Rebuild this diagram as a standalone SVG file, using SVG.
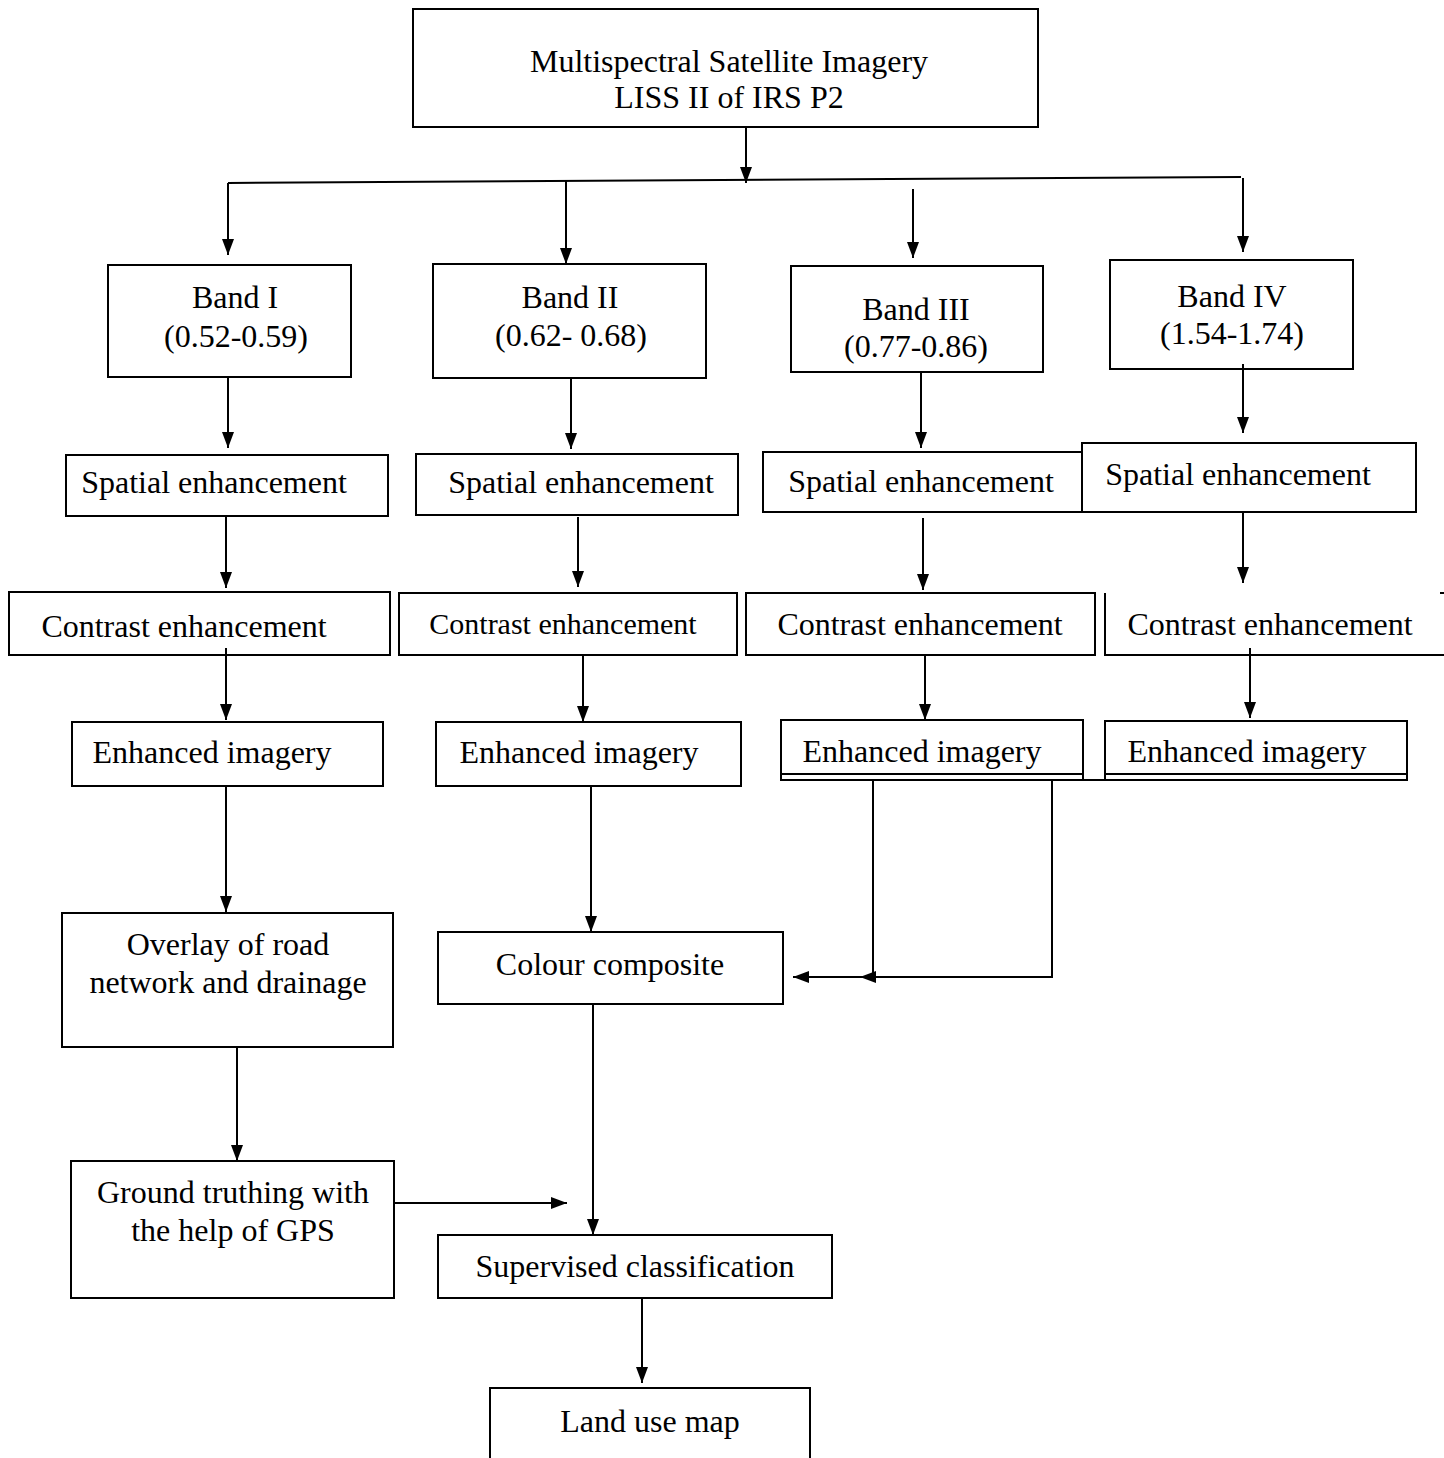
<svg xmlns="http://www.w3.org/2000/svg" width="1444" height="1458" viewBox="0 0 1444 1458">
<style>
.box{fill:none;stroke:#000;stroke-width:2}
.open{fill:none;stroke:#000;stroke-width:2}
.t{font-family:"Liberation Serif","Times New Roman",serif;font-size:32px;fill:#000;text-anchor:middle}
.c{fill:none;stroke:#000;stroke-width:2;marker-end:url(#ah)}
.l{fill:none;stroke:#000;stroke-width:2}
</style>
<defs>
<marker id="ah" viewBox="0 0 16 12" refX="16" refY="6" markerWidth="16" markerHeight="12" orient="auto" markerUnits="userSpaceOnUse"><path d="M0,0 L16,6 L0,12 z" fill="#000"/></marker>
</defs>
<rect width="1444" height="1458" fill="#fff"/>
<g id="connectors">
<path class="c" d="M746,127 V183"/>
<path class="l" d="M228,183 L1241,177"/>
<path class="c" d="M228,183 V255"/>
<path class="c" d="M566,181 V264"/>
<path class="c" d="M913,189 V258"/>
<path class="c" d="M1243,178 V252"/>
<path class="c" d="M228,377 V448"/>
<path class="c" d="M571,378 V449"/>
<path class="c" d="M921,372 V448"/>
<path class="c" d="M1243,364 V433"/>
<path class="c" d="M226,516 V588"/>
<path class="c" d="M578,517 V587"/>
<path class="c" d="M923,518 V590"/>
<path class="c" d="M1243,512 V583"/>
<path class="c" d="M226,648 V720"/>
<path class="c" d="M583,655 V722"/>
<path class="c" d="M925,655 V720"/>
<path class="c" d="M1250,648 V718"/>
<path class="c" d="M226,786 V912"/>
<path class="c" d="M591,786 V932"/>
<path class="c" d="M1052,780 V977 H860"/>
<path class="c" d="M873,780 V977 H793"/>
<path class="c" d="M593,1004 V1235"/>
<path class="c" d="M237,1047 V1161"/>
<path class="c" d="M394,1203 H567"/>
<path class="c" d="M642,1298 V1383"/>
</g>
<g id="n-source">
<rect class="box" x="413" y="9" width="625" height="118"/>
<text class="t" x="729" y="72">Multispectral Satellite Imagery</text>
<text class="t" x="729" y="108">LISS II of IRS P2</text>
</g>
<g id="n-band1">
<rect class="box" x="108" y="265" width="243" height="112"/>
<text class="t" x="235" y="308">Band I</text>
<text class="t" x="236" y="347">(0.52-0.59)</text>
</g>
<g id="n-band2">
<rect class="box" x="433" y="264" width="273" height="114"/>
<text class="t" x="570" y="308">Band II</text>
<text class="t" x="571" y="346">(0.62- 0.68)</text>
</g>
<g id="n-band3">
<rect class="box" x="791" y="266" width="252" height="106"/>
<text class="t" x="916" y="320">Band III</text>
<text class="t" x="916" y="357">(0.77-0.86)</text>
</g>
<g id="n-band4">
<rect class="box" x="1110" y="260" width="243" height="109"/>
<text class="t" x="1232" y="307">Band IV</text>
<text class="t" x="1232" y="344">(1.54-1.74)</text>
</g>
<g id="n-spatial1">
<rect class="box" x="66" y="455" width="322" height="61"/>
<text class="t" x="214" y="493">Spatial enhancement</text>
</g>
<g id="n-spatial2">
<rect class="box" x="416" y="454" width="322" height="61"/>
<text class="t" x="581" y="493">Spatial enhancement</text>
</g>
<g id="n-spatial3">
<rect class="box" x="763" y="452" width="319" height="60"/>
<text class="t" x="921" y="492">Spatial enhancement</text>
</g>
<g id="n-spatial4">
<rect class="box" x="1082" y="443" width="334" height="69"/>
<text class="t" x="1238" y="485">Spatial enhancement</text>
</g>
<g id="n-contrast1">
<rect class="box" x="9" y="592" width="381" height="63"/>
<text class="t" x="184" y="637">Contrast enhancement</text>
</g>
<g id="n-contrast2">
<rect class="box" x="399" y="593" width="338" height="62"/>
<text class="t" x="563" y="634" style="font-size:30px">Contrast enhancement</text>
</g>
<g id="n-contrast3">
<rect class="box" x="746" y="593" width="349" height="62"/>
<text class="t" x="920" y="635">Contrast enhancement</text>
</g>
<g id="n-contrast4">
<path class="open" d="M1105,593 V655 H1444 M1440,593 H1444"/>
<text class="t" x="1270" y="635">Contrast enhancement</text>
</g>
<g id="n-enh1">
<rect class="box" x="72" y="722" width="311" height="64"/>
<text class="t" x="212" y="763">Enhanced imagery</text>
</g>
<g id="n-enh2">
<rect class="box" x="436" y="722" width="305" height="64"/>
<text class="t" x="579" y="763">Enhanced imagery</text>
</g>
<g id="n-enh3">
<rect class="box" x="781" y="720" width="302" height="54"/>
<text class="t" x="922" y="762">Enhanced imagery</text>
</g>
<g id="n-enh4">
<rect class="box" x="1105" y="721" width="302" height="53"/>
<text class="t" x="1247" y="762">Enhanced imagery</text>
</g>
<g id="enh-base">
<path class="l" d="M781,774 V780 H1407 V774 M1083,774 V780 M1105,774 V780"/>
</g>
<g id="n-overlay">
<rect class="box" x="62" y="913" width="331" height="134"/>
<text class="t" x="228" y="955">Overlay of road</text>
<text class="t" x="228" y="993">network and drainage</text>
</g>
<g id="n-colour">
<rect class="box" x="438" y="932" width="345" height="72"/>
<text class="t" x="610" y="975">Colour composite</text>
</g>
<g id="n-ground">
<rect class="box" x="71" y="1161" width="323" height="137"/>
<text class="t" x="233" y="1203">Ground truthing with</text>
<text class="t" x="233" y="1241">the help of GPS</text>
</g>
<g id="n-supervised">
<rect class="box" x="438" y="1235" width="394" height="63"/>
<text class="t" x="635" y="1277">Supervised classification</text>
</g>
<g id="n-landuse">
<path class="open" d="M490,1458 V1388 H810 V1458"/>
<text class="t" x="650" y="1432">Land use map</text>
</g>
</svg>
